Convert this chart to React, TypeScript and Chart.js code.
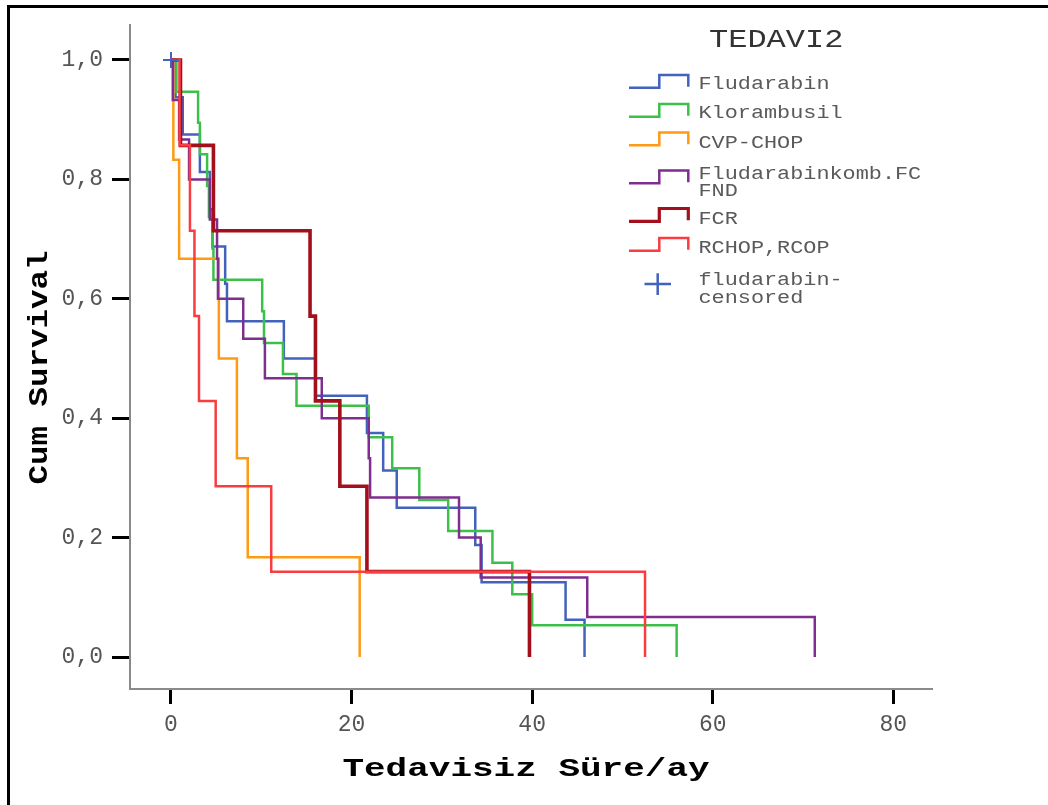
import React, { useEffect, useRef } from 'react';
import { Chart, registerables } from 'chart.js';

Chart.register(...registerables);

// ---- Kaplan–Meier data: time of each drop (months) and survival after it ----
const groupNames = ['Fludarabin', 'Klorambusil', 'CVP-CHOP', 'Fludarabinkomb.FC\nFND', 'FCR', 'RCHOP,RCOP'];
const censorLabel = 'fludarabin-\ncensored';
const legendTitle = 'TEDAVI2';
const xTitle = 'Tedavisiz Süre/ay';
const yTitle = 'Cum Survival';
const xTickValues = [0, 20, 40, 60, 80];
const yTickValues = [0, 0.2, 0.4, 0.6, 0.8, 1.0];

const fludarabinTimes = [0, 0.5, 1.3, 3.2, 4.3, 4.6, 6.0, 6.2, 12.5, 16.0, 21.7, 23.5, 25.0, 33.7, 34.4, 43.7, 45.8];
const fludarabinSurv = [1, 0.9375, 0.875, 0.8125, 0.75, 0.6875, 0.625, 0.5625, 0.5, 0.4375, 0.375, 0.3125, 0.25, 0.1875, 0.125, 0.0625, 0];

const klorambusilTimes = [0, 0.6, 3.0, 3.2, 4.0, 4.2, 4.6, 4.7, 10.1, 10.3, 12.4, 13.9, 21.9, 24.5, 27.5, 30.7, 35.6, 37.8, 40.0, 56.0];
const klorambusilSurv = [1, 0.947, 0.895, 0.842, 0.789, 0.737, 0.684, 0.632, 0.579, 0.526, 0.474, 0.421, 0.368, 0.316, 0.263, 0.211, 0.158, 0.105, 0.053, 0];

const cvpChopTimes = [0, 0.26, 0.9, 5.3, 7.3, 8.5, 20.9];
const cvpChopSurv = [1, 0.833, 0.667, 0.5, 0.333, 0.167, 0];

const fludKombTimes = [0, 0.2, 0.9, 2.0, 4.3, 5.1, 5.2, 8.0, 10.4, 16.7, 21.9, 22.05, 31.9, 34.3, 46.1, 71.3];
const fludKombSurv = [1, 0.933, 0.867, 0.8, 0.733, 0.667, 0.6, 0.533, 0.467, 0.4, 0.333, 0.267, 0.2, 0.133, 0.067, 0];

const fcrTimes = [0, 1.05, 4.7, 15.4, 16.0, 18.7, 21.7, 39.7];
const fcrSurv = [1, 0.857, 0.714, 0.571, 0.429, 0.286, 0.143, 0];

const rchopTimes = [0, 0.95, 2.1, 2.6, 3.1, 4.95, 11.1, 52.5];
const rchopSurv = [1, 0.857, 0.714, 0.571, 0.429, 0.286, 0.143, 0];

// censored observation of the fludarabin group
const censorTimes = [0];
const censorSurv = [1.0];

// ---- styling ----
const groupColors = ['#4262bc', '#3cc04a', '#ff9a14', '#7e2e8e', '#a3101c', '#f93c40'];
const groupWidths = [2.5, 2.5, 2.5, 2.5, 3.6, 2.5];
const MONO = "'Liberation Mono', 'Courier New', monospace";

const seriesTimes = [fludarabinTimes, klorambusilTimes, cvpChopTimes, fludKombTimes, fcrTimes, rchopTimes];
const seriesSurv = [fludarabinSurv, klorambusilSurv, cvpChopSurv, fludKombSurv, fcrSurv, rchopSurv];

// Draws text with a fixed character pitch (horizontal stretch of the monospace face)
function drawPitched(
  ctx: CanvasRenderingContext2D,
  text: string,
  x: number,
  y: number,
  size: number,
  pitch: number,
  weight: string,
  color: string,
  align: 'left' | 'center'
) {
  ctx.save();
  ctx.font = `${weight} ${size}px ${MONO}`;
  const w = ctx.measureText(text).width;
  const sx = (pitch * text.length) / w;
  ctx.translate(x, y);
  ctx.scale(sx, 1);
  ctx.fillStyle = color;
  ctx.textBaseline = 'alphabetic';
  ctx.textAlign = 'left';
  ctx.fillText(text, align === 'center' ? -w / 2 : 0, 0);
  ctx.restore();
}

const legendBaselines = [89, 118.3, 147.7, 179.3, 224.3, 253.3];
const legendIconLows = [87.7, 116.7, 145.3, 183.3, 221.3, 250.7];

const decorPlugin = {
  id: 'kmDecor',
  beforeDraw(chart: any) {
    const ctx: CanvasRenderingContext2D = chart.ctx;
    ctx.save();
    ctx.fillStyle = '#ffffff';
    ctx.fillRect(0, 0, chart.width, chart.height);
    ctx.fillStyle = '#000000';
    ctx.fillRect(7, 5, chart.width - 7, 3);
    ctx.fillRect(7, 5, 3, chart.height - 5);
    ctx.restore();
  },
  afterDraw(chart: any) {
    const ctx: CanvasRenderingContext2D = chart.ctx;

    // axis titles
    drawPitched(ctx, xTitle, 526, 776, 25, 21.6, 'bold', '#000', 'center');
    ctx.save();
    ctx.translate(47, 367.5);
    ctx.rotate(-Math.PI / 2);
    drawPitched(ctx, yTitle, 0, 0, 27, 19.5, 'bold', '#000', 'center');
    ctx.restore();

    // legend
    drawPitched(ctx, legendTitle, 709, 46.7, 25.5, 19.2, 'normal', '#333', 'left');
    groupNames.forEach((name, i) => {
      const low = legendIconLows[i];
      const top = low - 12.8;
      ctx.save();
      ctx.strokeStyle = groupColors[i];
      ctx.lineWidth = i === 4 ? 3.2 : 2.5;
      ctx.lineJoin = 'miter';
      ctx.beginPath();
      ctx.moveTo(629, low);
      ctx.lineTo(659.3, low);
      ctx.lineTo(659.3, top);
      ctx.lineTo(688.3, top);
      ctx.lineTo(688.3, low - 1);
      ctx.stroke();
      ctx.restore();
      name.split('\n').forEach((line, j) => {
        drawPitched(ctx, line, 698.5, legendBaselines[i] + j * 16.8, 19, 13.1, 'normal', '#5a5a5a', 'left');
      });
    });
    // censored marker entry
    ctx.save();
    ctx.strokeStyle = groupColors[0];
    ctx.lineWidth = 2.5;
    ctx.beginPath();
    ctx.moveTo(644.5, 284);
    ctx.lineTo(671, 284);
    ctx.moveTo(657.7, 273.3);
    ctx.lineTo(657.7, 295);
    ctx.stroke();
    ctx.restore();
    censorLabel.split('\n').forEach((line, j) => {
      drawPitched(ctx, line, 698.5, 285 + j * 17.5, 19, 13.1, 'normal', '#5a5a5a', 'left');
    });
  },
};

export default function App() {
  const canvasRef = useRef<HTMLCanvasElement | null>(null);

  useEffect(() => {
    const canvas = canvasRef.current;
    if (!canvas) return;

    const lineSets = seriesTimes.map((times, i) => ({
      type: 'line' as const,
      label: groupNames[i],
      data: times.map((t, k) => ({ x: t, y: seriesSurv[i][k] })),
      borderColor: groupColors[i],
      backgroundColor: groupColors[i],
      borderWidth: groupWidths[i],
      stepped: 'before' as const,
      pointRadius: 0,
      fill: false,
      tension: 0,
      order: 6 - i,
    }));

    const censorSet = {
      type: 'scatter' as const,
      label: censorLabel,
      data: censorTimes.map((t, k) => ({ x: t, y: censorSurv[k] })),
      borderColor: groupColors[0],
      backgroundColor: groupColors[0],
      pointStyle: 'cross' as const,
      pointRadius: 8,
      borderWidth: 2,
      showLine: false,
      order: 0,
    };

    const tickFont = { family: MONO, size: 23 };

    const chart = new Chart(canvas, {
      type: 'line',
      data: { datasets: [...lineSets, censorSet] as any },
      options: {
        responsive: false,
        animation: false,
        devicePixelRatio: 1,
        events: [],
        layout: { padding: { left: 0, top: 25, right: 115.3, bottom: 0 } },
        plugins: {
          legend: { display: false },
          tooltip: { enabled: false },
          title: { display: false },
        },
        scales: {
          x: {
            type: 'linear',
            min: -4.54,
            max: 84.36,
            afterBuildTicks: (scale: any) => {
              scale.ticks = xTickValues.map((v) => ({ value: v }));
            },
            afterFit: (scale: any) => {
              scale.height = 116;
            },
            ticks: {
              font: tickFont,
              color: '#555',
              padding: 7,
              maxRotation: 0,
              autoSkip: false,
              callback: (v: any) => String(v),
            },
            grid: {
              drawOnChartArea: false,
              drawTicks: true,
              tickLength: 15,
              tickWidth: 3,
              tickColor: '#000',
            },
            border: { display: true, color: '#8a8a8a', width: 2 },
          },
          y: {
            type: 'linear',
            min: -0.0536,
            max: 1.0586,
            afterBuildTicks: (scale: any) => {
              scale.ticks = yTickValues.map((v) => ({ value: v }));
            },
            afterFit: (scale: any) => {
              scale.width = 130;
            },
            ticks: {
              font: tickFont,
              color: '#555',
              padding: 9,
              autoSkip: false,
              callback: (v: any) => Number(v).toFixed(1).replace('.', ','),
            },
            grid: {
              drawOnChartArea: false,
              drawTicks: true,
              tickLength: 18,
              tickWidth: 3,
              tickColor: '#000',
            },
            border: { display: true, color: '#8a8a8a', width: 2 },
          },
        },
      },
      plugins: [decorPlugin],
    });

    return () => {
      chart.destroy();
    };
  }, []);

  return (
    <div style={{ position: 'fixed', left: 0, top: 0, width: 1048, height: 805, background: '#fff' }}>
      <canvas ref={canvasRef} width={1048} height={805} style={{ display: 'block' }} />
    </div>
  );
}
